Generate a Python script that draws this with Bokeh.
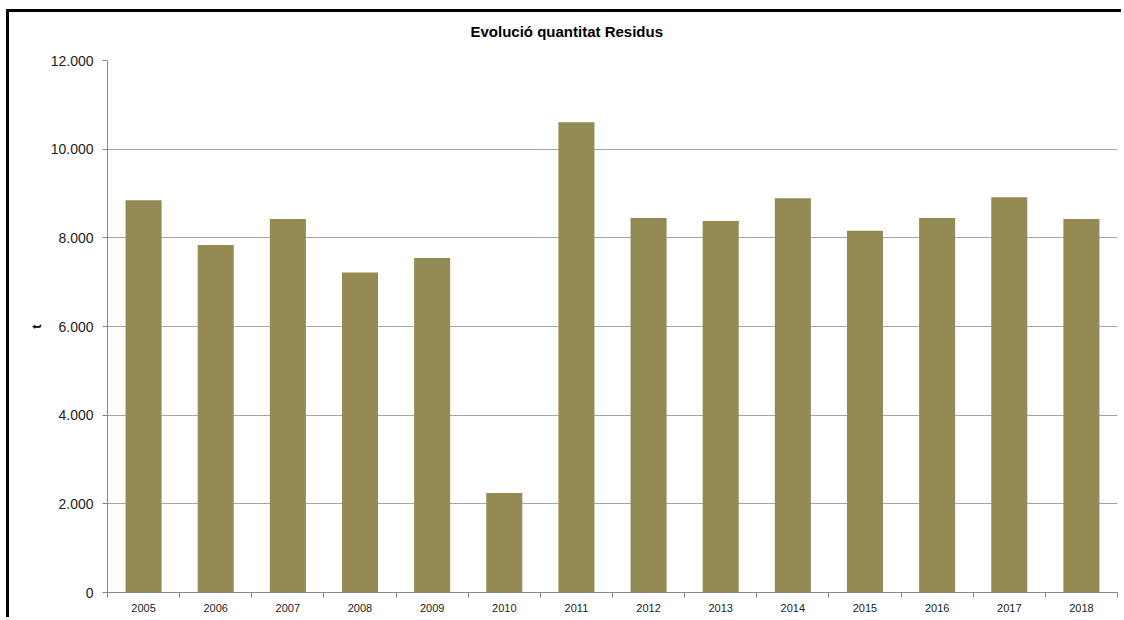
import numpy as np
from bokeh.plotting import figure
from bokeh.models import Range1d, FixedTicker, LinearAxis
from bokeh.embed import file_html
from bokeh.resources import INLINE

years = ["2005", "2006", "2007", "2008", "2009", "2010", "2011",
         "2012", "2013", "2014", "2015", "2016", "2017", "2018"]
residus = [8847, 7836, 8427, 7220, 7544, 2247, 10607,
           8449, 8382, 8892, 8157, 8449, 8914, 8427]
y_ticks = [0, 2000, 4000, 6000, 8000, 10000, 12000]
y_tick_labels = ["0", "2.000", "4.000", "6.000", "8.000", "10.000", "12.000"]
title_text = "Evolució quantitat Residus"

xpos = list(range(len(years)))
bounds = [i - 0.5 for i in range(len(years) + 1)]

p = figure(width=1115, height=608, output_backend="svg", toolbar_location=None,
           x_range=Range1d(-0.5, len(years) - 0.5), y_range=Range1d(0, 12000),
           min_border_left=98, min_border_top=48, min_border_right=7, min_border_bottom=28)
p.styles = {"border-left": "3px solid black", "border-top": "3px solid black",
            "margin-left": "6px", "margin-top": "9px"}

xa = p.below[0]
ya = p.left[0]

p.vbar(x=xpos, top=residus, width=0.5, color="#948A54", line_color=None)

# invisible spacer between the title and the plot area
spacer = LinearAxis(ticker=FixedTicker(ticks=[0]), major_tick_out=19, major_tick_in=0,
                    minor_tick_out=0, minor_tick_in=0, major_label_standoff=4,
                    major_label_text_font_size="11px", major_label_overrides={0: " "},
                    axis_line_color=None, major_tick_line_color=None,
                    minor_tick_line_color=None, major_label_text_alpha=0)
p.add_layout(spacer, "above")

p.title.text = title_text
p.title.text_font = "Liberation Sans"
p.title.text_font_size = "15px"
p.title.text_font_style = "bold"
p.title.text_color = "#000000"
p.title.align = "left"
p.title.offset = 363
p.title.vertical_align = "bottom"
p.title.standoff = 4

p.outline_line_color = None
p.background_fill_color = "white"
p.border_fill_color = "white"

# x axis
xa.ticker = FixedTicker(ticks=xpos, minor_ticks=bounds)
xa.major_label_overrides = {i: y for i, y in zip(xpos, years)}
xa.major_tick_out = 0
xa.major_tick_in = 0
xa.minor_tick_out = 5
xa.minor_tick_in = 0
xa.minor_tick_line_color = "#868686"
xa.axis_line_color = "#868686"
xa.major_label_text_font = "Liberation Sans"
xa.major_label_text_font_size = "11px"
xa.major_label_text_color = "#222222"
xa.major_label_standoff = 6
p.xgrid.visible = False

# y axis
ya.ticker = FixedTicker(ticks=y_ticks)
ya.major_label_overrides = {t: l for t, l in zip(y_ticks, y_tick_labels)}
ya.major_tick_out = 5
ya.major_tick_in = 0
ya.minor_tick_out = 0
ya.minor_tick_in = 0
ya.major_tick_line_color = "#868686"
ya.axis_line_color = "#868686"
ya.major_label_text_font = "Liberation Sans"
ya.major_label_text_font_size = "14px"
ya.major_label_text_color = "#222222"
ya.major_label_standoff = 9
ya.axis_label = "t"
ya.axis_label_text_font = "Liberation Sans"
ya.axis_label_text_font_size = "13px"
ya.axis_label_text_font_style = "bold"
ya.axis_label_text_color = "#000000"
ya.axis_label_standoff = 4
p.ygrid.ticker = FixedTicker(ticks=y_ticks[1:])
p.ygrid.grid_line_color = "#a6a6a6"
p.ygrid.grid_line_width = 1

open("out.html", "w").write(file_html(p, INLINE))
